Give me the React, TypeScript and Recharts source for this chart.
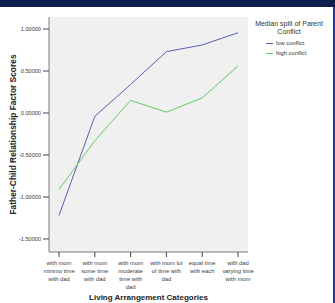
import { CartesianGrid, Line, LineChart, XAxis, YAxis } from "recharts";

const categoryLines = [
  ["with mom", "minimo time", "with dad"],
  ["with mom", "some time", "with dad"],
  ["with mom", "moderate", "time with", "dad"],
  ["with mom lot", "of time with", "dad"],
  ["equal time", "with each"],
  ["with dad", "varying time", "with mom"],
];
const lowConflict = [-1.22, -0.04, 0.34, 0.73, 0.81, 0.955];
const highConflict = [-0.91, -0.33, 0.15, 0.01, 0.18, 0.56];
const yTicks = [-1.5, -1, -0.5, 0, 0.5, 1];

const seriesNames = ["low conflict", "high conflict"];
const seriesColors = ["#5662b0", "#62c964"];

const data = categoryLines.map((lines, i) => ({
  name: lines.join(" "),
  low: lowConflict[i],
  high: highConflict[i],
}));

const font = "'Liberation Sans', Arial, sans-serif";

function XTick({ x, y, payload }: any) {
  const lines = categoryLines[payload.index] ?? [];
  return (
    <text x={x} y={y} textAnchor="middle" fontSize={5.8} fill="#3a3a3a" fontFamily={font}>
      {lines.map((l, i) => (
        <tspan key={i} x={x} dy={i === 0 ? 5.5 : 8.2}>
          {l}
        </tspan>
      ))}
    </text>
  );
}

function YTitle({ viewBox }: any) {
  const cx = 13;
  const cy = viewBox.y + viewBox.height / 2;
  return (
    <text
      x={cx}
      y={cy}
      transform={`rotate(-90, ${cx}, ${cy})`}
      textAnchor="middle"
      dominantBaseline="central"
      fontSize={8.4}
      fontWeight="bold"
      fill="#222"
      fontFamily={font}
    >
      Father-Child Relationship Factor Scores
    </text>
  );
}

export default function App() {
  return (
    <div
      style={{
        position: "absolute",
        left: 0,
        top: 0,
        width: 335,
        height: 303,
        background: "#fff",
        fontFamily: font,
        overflow: "hidden",
      }}
    >
      <div style={{ position: "absolute", left: 0, top: 0, width: 335, height: 7, background: "#0c1d4e" }} />
      <div style={{ position: "absolute", left: 333, top: 7, width: 2, height: 296, background: "#1e3c9c" }} />
      <LineChart
        width={335}
        height={303}
        data={data}
        margin={{ top: 17, right: 87, bottom: 0, left: 0 }}
      >
        <CartesianGrid horizontal={false} vertical={false} fill="#f0f0f0" />
        <XAxis
          dataKey="name"
          height={51}
          padding={{ left: 10, right: 10 }}
          tickSize={5}
          tick={<XTick />}
          interval={0}
          stroke="#7a7a7a"
          tickLine={{ stroke: "#444" }}
          label={{
            value: "Living Arrangement Categories",
            position: "insideBottom",
            offset: 3,
            fontSize: 8,
            fontWeight: "bold",
            fill: "#222",
            fontFamily: font,
          }}
        />
        <XAxis
          xAxisId="top"
          dataKey="name"
          orientation="top"
          height={0}
          tick={false}
          tickLine={false}
          stroke="#7a7a7a"
        />
        <YAxis
          width={49}
          domain={[-1.655, 1.143]}
          ticks={yTicks}
          tickSize={6}
          tickFormatter={(v: number) => v.toFixed(5)}
          tick={{ fontSize: 5.6, fill: "#3a3a3a", fontFamily: font }}
          stroke="#7a7a7a"
          tickLine={{ stroke: "#444" }}
          label={<YTitle />}
        />
        <YAxis
          yAxisId="r"
          orientation="right"
          width={0}
          domain={[-1.655, 1.143]}
          tick={false}
          tickLine={false}
          stroke="#7a7a7a"
        />
        <Line
          dataKey="low"
          name={seriesNames[0]}
          stroke={seriesColors[0]}
          strokeWidth={1}
          dot={false}
          activeDot={false}
          isAnimationActive={false}
        />
        <Line
          dataKey="high"
          name={seriesNames[1]}
          stroke={seriesColors[1]}
          strokeWidth={1}
          dot={false}
          activeDot={false}
          isAnimationActive={false}
        />
      </LineChart>
      <div
        style={{
          position: "absolute",
          left: 250,
          top: 20,
          width: 78,
          textAlign: "center",
          fontSize: 7,
          lineHeight: "8px",
          color: "#333",
        }}
      >
        Median split of Parent
        <br />
        Conflict
      </div>
      {seriesNames.map((n, i) => (
        <div
          key={n}
          style={{
            position: "absolute",
            left: 266,
            top: 40 + i * 9.5,
            display: "flex",
            alignItems: "center",
            fontSize: 5.8,
            lineHeight: "7px",
            color: "#333",
            whiteSpace: "nowrap",
          }}
        >
          <span style={{ display: "inline-block", width: 7, height: 1, background: seriesColors[i], marginRight: 3 }} />
          {n}
        </div>
      ))}
    </div>
  );
}
